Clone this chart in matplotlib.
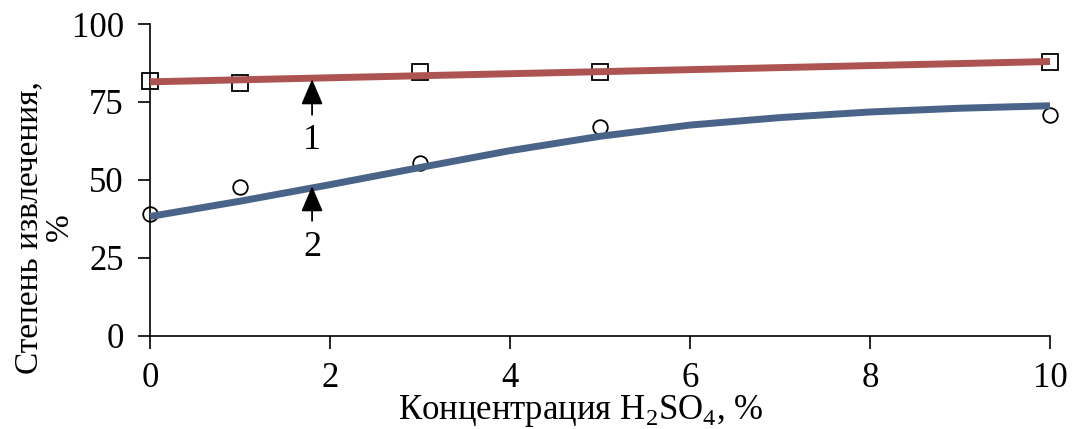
import numpy as np
import matplotlib
matplotlib.use("Agg")
import matplotlib.pyplot as plt

plt.rcParams['font.family'] = ['Liberation Serif', 'DejaVu Serif']
plt.rcParams['mathtext.fontset'] = 'custom'
plt.rcParams['mathtext.rm'] = 'Liberation Serif'

# data
conc = [0, 1, 3, 5, 10]
yield1 = [81.7, 81.0, 84.6, 84.6, 87.8]   # squares, curve 1
yield2 = [39.0, 47.8, 55.4, 67.0, 70.8]   # circles, curve 2
# trend curve 2 as drawn in the picture
trend_x = [0, 1, 2, 3, 4, 5, 6, 7, 8, 9, 10]
trend2 = [38.3, 43.2, 48.5, 54.0, 59.4, 64.0, 67.6, 70.0, 71.8, 73.0, 73.8]
xticks = [0, 2, 4, 6, 8, 10]
yticks = [0, 25, 50, 75, 100]

red = '#ad5352'
blue = '#4a6389'

fig = plt.figure(figsize=(10.72, 4.29), dpi=100)
ax = fig.add_axes([0.14, 0.217, 0.8395, 0.727])

# linear trend for curve 1
p1 = np.polyfit(conc, yield1, 1)

ax.plot(conc, yield1, ls='none', marker='s', ms=12, mfc='white', mec='black', mew=1.3, zorder=2, clip_on=False)
ax.plot(conc, yield2, ls='none', marker='o', ms=10.5, mfc='white', mec='black', mew=1.3, zorder=2, clip_on=False)
ax.plot(trend_x, np.polyval(p1, trend_x), color=red, lw=5, zorder=3, solid_capstyle='butt', clip_on=False)
ax.plot(trend_x, trend2, color=blue, lw=5, zorder=3, solid_capstyle='butt',
        solid_joinstyle='round', clip_on=False)

# curve labels with arrows
arrow = dict(arrowstyle='-|>,head_length=0.75,head_width=0.32', color='black', lw=1.3,
             mutation_scale=21, shrinkA=5, shrinkB=0)
ax.annotate('1', xy=(1.8, 82.3), xytext=(1.8, 62.5), ha='center', va='center', fontsize=26, arrowprops=arrow)
ax.annotate('2', xy=(1.8, 48.0), xytext=(1.8, 28.5), ha='center', va='center', fontsize=26, arrowprops=arrow)

ax.set_xlim(0, 10)
ax.set_ylim(0, 100)
ax.set_xticks(xticks)
ax.set_yticks(yticks)
ax.tick_params(axis='both', direction='out', length=9, width=1.2, labelsize=25)
ax.tick_params(axis='x', pad=10)
ax.tick_params(axis='y', pad=10)
for s in ['top', 'right']:
    ax.spines[s].set_visible(False)
for s in ['left', 'bottom']:
    ax.spines[s].set_linewidth(1.2)

fig.text(0.542, 0.042, 'Концентрация H$_2$SO$_4$, %', ha='center', va='center', fontsize=25)
fig.text(0.041, 0.47, 'Степень извлечения,\n%', ha='center', va='center', rotation=90,
         multialignment='center', fontsize=24, linespacing=1.0)

fig.savefig('out.png', dpi=100)
